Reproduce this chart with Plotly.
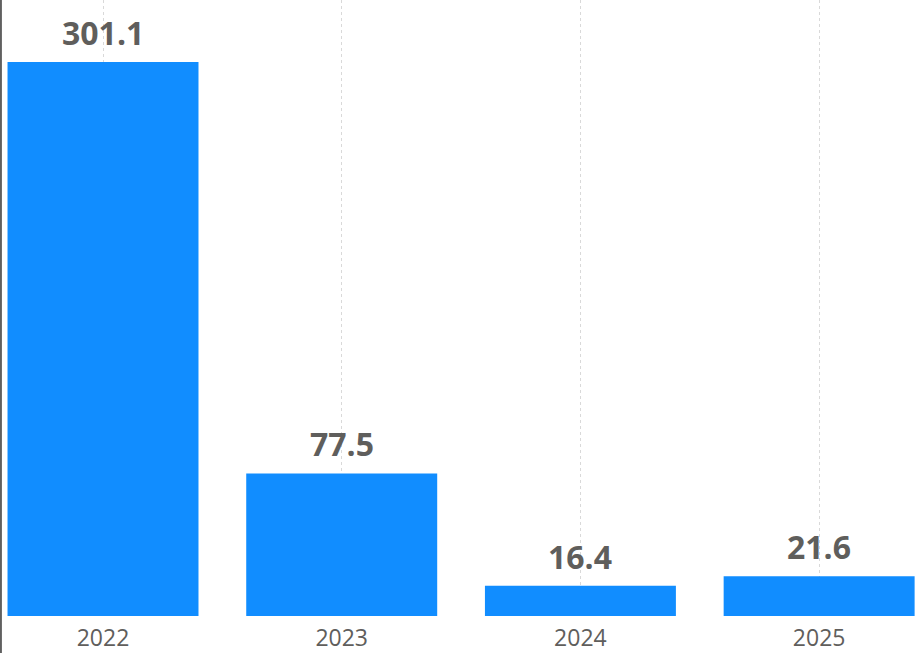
import plotly.graph_objects as go

years = ["2022", "2023", "2024", "2025"]
values = [301.1, 77.5, 16.4, 21.6]
labels = ["301.1", "77.5", "16.4", "21.6"]

fig = go.Figure()

fig.add_trace(
    go.Bar(
        x=years,
        y=values,
        marker=dict(color="#118DFF", line=dict(width=0)),
        hoverinfo="x+y",
    )
)

# data labels above bars (x given as category index)
for i, (val, lab) in enumerate(zip(values, labels)):
    fig.add_annotation(
        x=i,
        y=val,
        xref="x",
        yref="y",
        text="<b>" + lab + "</b>",
        showarrow=False,
        yanchor="bottom",
        yshift=6,
        font=dict(family="Open Sans", size=32, color="#5F5E5C"),
    )

fig.update_layout(
    width=917,
    height=653,
    margin=dict(l=0, r=0, t=0, b=37),
    paper_bgcolor="white",
    plot_bgcolor="white",
    bargap=0.2,
    showlegend=False,
    font=dict(family="Open Sans", color="#605E5C"),
    xaxis=dict(
        type="category",
        range=[-0.4315, 3.41],
        showgrid=True,
        gridcolor="#D9D9D9",
        griddash="dot",
        gridwidth=1,
        showline=False,
        ticks="",
        ticklabelstandoff=6,
        tickfont=dict(size=23, color="#605E5C"),
        zeroline=False,
    ),
    yaxis=dict(
        range=[0, 334.8],
        showgrid=False,
        showticklabels=False,
        zeroline=False,
        showline=False,
    ),
    shapes=[
        dict(
            type="line",
            xref="paper",
            yref="paper",
            x0=0.001,
            x1=0.001,
            y0=-0.07,
            y1=1,
            line=dict(color="#606060", width=2),
        )
    ],
)

fig.write_html(
    "out.html",
    config={"displayModeBar": False},
    post_script="document.body.style.margin='0';",
)
